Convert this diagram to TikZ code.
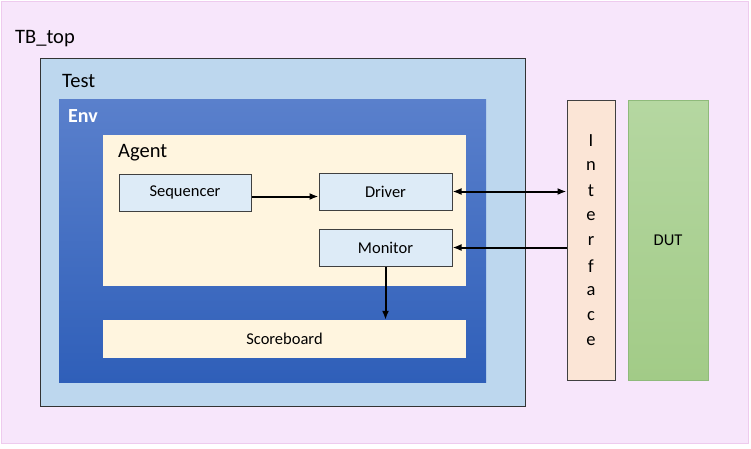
\documentclass[tikz,border=0pt]{standalone}
\usepackage{fontspec}
\setmainfont{Carlito}
\usepackage{tikz}
\usetikzlibrary{arrows.meta}
\definecolor{tbpink}{HTML}{F7E6FB}
\definecolor{tbedge}{HTML}{EECBEE}
\definecolor{testblue}{HTML}{BDD7EE}
\definecolor{envtop}{HTML}{5A80CC}
\definecolor{envbot}{HTML}{2F5FB9}
\definecolor{agentcream}{HTML}{FFF5DF}
\definecolor{compblue}{HTML}{DDEBF7}
\definecolor{intfpeach}{HTML}{FBE5D6}
\definecolor{duttop}{HTML}{B5D7A1}
\definecolor{dutbot}{HTML}{A2CB87}
\definecolor{dutedge}{HTML}{8FBA7B}
\tikzset{
  frame/.style={rectangle, inner sep=0pt},
  comp/.style={rectangle, draw=black!75, line width=1pt, fill=compblue, inner sep=0pt,
    minimum width=133pt, minimum height=37pt, font=\fontsize{16.5}{19}\selectfont},
  title/.style={anchor=base west, inner sep=0pt, font=\fontsize{20.5}{24}\selectfont},
  tip/.tip={Latex[length=9pt,width=7pt]},
  link/.style={-tip, line width=2pt}
}
\begin{document}
\begin{tikzpicture}[x=1pt,y=-1pt]
	% page size
	\useasboundingbox (0,0) rectangle (751,448);
	% the outer testbench
	\node[frame, draw=tbedge, fill=tbpink, minimum width=747pt, minimum height=442pt] (tbtop) at (374.5,222) {};
	\node[title] (tbtoplbl) at (15,43) {TB\_top};
	% the test
	\node[frame, draw=black!80, line width=1pt, fill=testblue, minimum width=485pt, minimum height=348pt] (test) at (282.5,232) {};
	\node[title] (testlbl) at (62,87) {Test};
	% the environment - shaded blue
	\node[frame, top color=envtop, bottom color=envbot, minimum width=427pt, minimum height=283pt] (env) at (272.5,240.5) {};
	\node[title, text=white, font=\fontsize{20}{24}\selectfont\bfseries] (envlbl) at (68,122) {Env};
	% the agent
	\node[frame, fill=agentcream, minimum width=363pt, minimum height=151pt] (agent) at (284.5,210.5) {};
	\node[title] (agentlbl) at (118,157) {Agent};
	% agent components
	\node[comp, minimum width=132pt] (seq) at (185,192.5) {Sequencer};
	\node[comp] (drv) at (385.5,191.5) {Driver};
	\node[comp] (mon) at (385.5,247.5) {Monitor};
	% scoreboard
	\node[frame, fill=agentcream, minimum width=363pt, minimum height=38pt, font=\fontsize{16.5}{19}\selectfont] (score) at (284.5,339) {Scoreboard};
	% interface and DUT
	\node[frame, draw=black!75, line width=1pt, fill=intfpeach, minimum width=48pt, minimum height=280pt] (intf) at (591,240) {};
	\foreach \ch [count=\i] in {I,n,t,e,r,f,a,c,e}
		\node[font=\fontsize{18.5}{20}\selectfont, inner sep=0pt] (intf\i) at (591,116+25*\i) {\ch};
	\node[frame, draw=dutedge, top color=duttop, bottom color=dutbot, minimum width=80pt, minimum height=280pt, font=\fontsize{16.5}{19}\selectfont] (dut) at (668,240) {DUT};
	% connections
	\draw[link] ([yshift=-4pt]seq.east) -- ([yshift=-4pt]seq.east -| drv.west);
	\draw[link, tip-tip] (drv.east) -- (drv.east -| intf.west);
	\draw[link] (mon.east -| intf.west) -- (mon.east);
	\draw[link] (mon.south) -- (mon.south |- score.north);
\end{tikzpicture}
\end{document}
